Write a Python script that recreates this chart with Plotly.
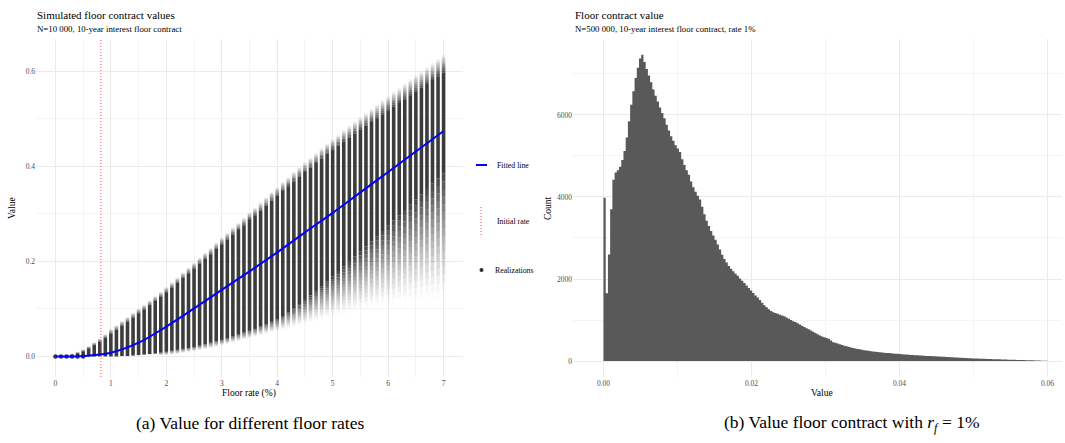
import plotly.graph_objects as go

W, H = 1065, 443
SERIF = "Liberation Serif, Times New Roman, serif"

# ---------------- Panel (a): simulated values per floor rate ----------------
floor_rates = [round(0.1 * i, 1) for i in range(71)]

# upper end of the faint cloud
v_max = [0.000, 0.002, 0.003, 0.006, 0.010, 0.015, 0.022, 0.030, 0.038, 0.047,
         0.058, 0.066, 0.075, 0.083, 0.092, 0.101, 0.109, 0.118, 0.127, 0.136,
         0.146, 0.156, 0.166, 0.177, 0.187, 0.197, 0.208, 0.218, 0.228, 0.239,
         0.250, 0.260, 0.271, 0.281, 0.292, 0.303, 0.313, 0.324, 0.335, 0.346,
         0.356, 0.367, 0.377, 0.388, 0.398, 0.408, 0.418, 0.428, 0.438, 0.448,
         0.457, 0.466, 0.476, 0.485, 0.494, 0.503, 0.512, 0.521, 0.530, 0.539,
         0.548, 0.557, 0.565, 0.574, 0.583, 0.592, 0.600, 0.609, 0.617, 0.626,
         0.634]
# upper end of the dense part
v_hi = [0.000, 0.001, 0.002, 0.004, 0.007, 0.011, 0.017, 0.024, 0.031, 0.039,
        0.048, 0.056, 0.065, 0.073, 0.082, 0.091, 0.099, 0.108, 0.117, 0.126,
        0.135, 0.145, 0.155, 0.165, 0.175, 0.185, 0.195, 0.205, 0.215, 0.226,
        0.236, 0.246, 0.256, 0.266, 0.276, 0.287, 0.297, 0.307, 0.317, 0.328,
        0.338, 0.348, 0.358, 0.368, 0.378, 0.388, 0.397, 0.407, 0.416, 0.426,
        0.435, 0.443, 0.452, 0.460, 0.469, 0.477, 0.485, 0.493, 0.501, 0.509,
        0.517, 0.525, 0.533, 0.541, 0.549, 0.557, 0.565, 0.573, 0.581, 0.589,
        0.597]
# lower end of the dense part
v_lo = [0.000, 0.000, 0.000, 0.000, 0.000, 0.000, 0.000, 0.000, 0.000, 0.000,
        0.000, 0.000, 0.001, 0.001, 0.002, 0.003, 0.004, 0.005, 0.006, 0.008,
        0.010, 0.012, 0.014, 0.016, 0.018, 0.020, 0.023, 0.026, 0.029, 0.032,
        0.035, 0.038, 0.042, 0.046, 0.050, 0.054, 0.058, 0.063, 0.068, 0.073,
        0.078, 0.085, 0.093, 0.101, 0.110, 0.119, 0.128, 0.138, 0.148, 0.158,
        0.168, 0.178, 0.189, 0.199, 0.210, 0.220, 0.231, 0.242, 0.253, 0.264,
        0.275, 0.286, 0.297, 0.308, 0.319, 0.330, 0.341, 0.352, 0.363, 0.374,
        0.385]
# lower end of the faint cloud
v_min = [0.000, 0.000, 0.000, 0.000, 0.000, 0.000, 0.000, 0.000, 0.000, 0.000,
         0.000, 0.000, 0.000, 0.000, 0.000, 0.000, 0.000, 0.001, 0.001, 0.002,
         0.003, 0.004, 0.005, 0.007, 0.009, 0.011, 0.013, 0.015, 0.017, 0.020,
         0.023, 0.026, 0.029, 0.032, 0.035, 0.038, 0.041, 0.044, 0.047, 0.050,
         0.053, 0.056, 0.059, 0.062, 0.065, 0.068, 0.071, 0.074, 0.077, 0.080,
         0.083, 0.086, 0.089, 0.092, 0.095, 0.098, 0.100, 0.102, 0.104, 0.106,
         0.108, 0.110, 0.112, 0.114, 0.116, 0.118, 0.119, 0.120, 0.121, 0.122,
         0.123]

fit_rates = [0.0, 0.5, 1.0, 1.5, 2.0, 2.5, 3.0, 3.5, 4.0, 4.5, 5.0, 5.5, 6.0, 6.5, 7.0]
fit_values = [0.000, 0.001, 0.008, 0.029, 0.063, 0.101, 0.140, 0.179, 0.219,
              0.261, 0.302, 0.345, 0.388, 0.431, 0.474]

initial_rate = 0.82

# ---------------- Panel (b): histogram of contract values ----------------
bin_start = 0.0
bin_width = 0.0003
counts = [3980, 1650, 2600, 3700, 4420, 4600, 4650, 4740, 4900, 5120,
          5450, 5850, 6250, 6580, 6900, 7150, 7380, 7470, 7290, 7120,
          6960, 6800, 6620, 6470, 6330, 6180, 6050, 5920, 5760, 5620,
          5480, 5370, 5260, 5180, 5100, 4920, 4780, 4650, 4540, 4380,
          4240, 4130, 4030, 3940, 3760, 3580, 3420, 3290, 3170, 3060,
          2960, 2840, 2720, 2590, 2490, 2400, 2320, 2250, 2190, 2130,
          2080, 2010, 1960, 1900, 1840, 1780, 1720, 1660, 1600, 1550,
          1490, 1420, 1360, 1310, 1260, 1220, 1190, 1170, 1150, 1130,
          1110, 1090, 1060, 1030, 1000, 970, 950, 920, 890, 860,
          830, 800, 775, 745, 715, 680, 650, 625, 600, 580,
          560, 545, 500, 460, 445, 425, 410, 390, 375, 360,
          345, 330, 318, 305, 295, 285, 275, 265, 255, 248,
          240, 232, 226, 220, 214, 208, 203, 198, 193, 188,
          183, 178, 174, 170, 166, 161, 157, 153, 149, 145,
          142, 139, 135, 132, 128, 125, 122, 120, 117, 114,
          111, 108, 105, 102, 99, 96, 93, 90, 87, 84,
          81, 78, 75, 72, 69, 67, 64, 62, 60, 57,
          55, 53, 51, 49, 47, 45, 43, 42, 40, 38,
          36, 34, 33, 31, 30, 28, 27, 25, 23, 22,
          20, 19, 18, 16, 14, 12, 10, 8, 6, 4]
# bin edges for a gap-free step outline of the histogram
bin_edges = [bin_start + i * bin_width for i in range(len(counts) + 1)]


def px_x(p):
    return p / W


def px_y(p):
    return 1 - p / H


POINT = "45,45,45"
RED = "#FF4A4A"
RED_DASH = "1px,2px"


def segments(lo_arr, hi_arr, f0, f1):
    xs, ys = [], []
    for r, lo, hi in zip(floor_rates, lo_arr, hi_arr):
        xs += [r, r, None]
        ys += [lo + (hi - lo) * f0, lo + (hi - lo) * f1, None]
    return xs, ys


fig = go.Figure()

col_w = 3.6
# dense core of each column
xs, ys = segments(v_lo, v_hi, 0.0, 1.0)
fig.add_trace(go.Scatter(x=xs, y=ys, mode="lines", showlegend=False, hoverinfo="skip",
                         line=dict(color=f"rgba({POINT},0.93)", width=col_w)))
# fading tail above the core
n_top = 8
for k in range(n_top):
    a = 0.85 * (1 - (k + 0.5) / n_top)
    xs, ys = segments(v_hi, v_max, k / n_top, (k + 1) / n_top)
    fig.add_trace(go.Scatter(x=xs, y=ys, mode="lines", showlegend=False, hoverinfo="skip",
                             line=dict(color=f"rgba({POINT},{a:.3f})", width=col_w)))
# fading tail below the core
n_bot = 16
for k in range(n_bot):
    a = 0.88 * (1 - (k + 0.5) / n_bot) ** 1.3
    xs, ys = segments(v_lo, v_min, k / n_bot, (k + 1) / n_bot)
    fig.add_trace(go.Scatter(x=xs, y=ys, mode="lines", showlegend=False, hoverinfo="skip",
                             line=dict(color=f"rgba({POINT},{a:.3f})", width=col_w)))
# realizations that collapse onto a single point at the lowest rates
pt_x = [r for r, lo, hi in zip(floor_rates, v_lo, v_hi) if hi - lo < 0.012]
pt_y = [lo for lo, hi in zip(v_lo, v_hi) if hi - lo < 0.012]
fig.add_trace(go.Scatter(x=pt_x, y=pt_y, mode="markers", showlegend=False,
                         marker=dict(size=4.5, color=f"rgba({POINT},0.93)", line=dict(width=0))))
# fitted curve
fig.add_trace(go.Scatter(x=fit_rates, y=fit_values, mode="lines", showlegend=False,
                         line=dict(color="#0000FF", width=2, shape="spline")))

# histogram as a filled step outline
fig.add_trace(go.Scatter(x=bin_edges, y=counts + [counts[-1]], xaxis="x2", yaxis="y2",
                         mode="lines", line=dict(shape="hv", width=0, color="#595959"),
                         fill="tozeroy", fillcolor="#595959", showlegend=False))

# initial-rate marker line
fig.add_shape(type="line", xref="x", yref="y domain", x0=initial_rate, x1=initial_rate,
              y0=0, y1=1, layer="above", line=dict(color=RED, width=1, dash=RED_DASH))

grid_major = "#EBEBEB"
grid_minor = "#F4F4F4"
tick_font = dict(family=SERIF, size=7.5, color="#4D4D4D")

y_dom = [px_y(377), px_y(38.5)]

fig.update_layout(
    width=W, height=H,
    margin=dict(l=0, r=0, t=0, b=0),
    paper_bgcolor="white", plot_bgcolor="white",
    showlegend=False,
    xaxis=dict(domain=[px_x(36), px_x(463)], range=[-0.35, 7.35],
               tickvals=[0, 1, 2, 3, 4, 5, 6, 7], ticks="", showline=False, zeroline=False,
               showgrid=True, gridcolor=grid_major, gridwidth=1, tickfont=tick_font,
               minor=dict(tick0=0, dtick=0.5, showgrid=True, gridcolor=grid_minor, gridwidth=0.7),
               anchor="y"),
    yaxis=dict(domain=y_dom, range=[-0.0431, 0.6685],
               tickvals=[0, 0.2, 0.4, 0.6], ticktext=["0.0", "0.2", "0.4", "0.6"],
               ticks="", showline=False, zeroline=False,
               showgrid=True, gridcolor=grid_major, gridwidth=1, tickfont=tick_font,
               minor=dict(tick0=0, dtick=0.1, showgrid=True, gridcolor=grid_minor, gridwidth=0.7),
               anchor="x"),
    xaxis2=dict(domain=[px_x(573), px_x(1062)], range=[-0.00412, 0.06196],
                tickvals=[0, 0.02, 0.04, 0.06], ticktext=["0.00", "0.02", "0.04", "0.06"],
                ticks="", showline=False, zeroline=False,
                showgrid=True, gridcolor=grid_major, gridwidth=1, tickfont=tick_font,
                minor=dict(tick0=0, dtick=0.01, showgrid=True, gridcolor=grid_minor, gridwidth=0.7),
                anchor="y2"),
    yaxis2=dict(domain=y_dom, range=[-390, 7865],
                tickvals=[0, 2000, 4000, 6000], ticks="", showline=False, zeroline=False,
                showgrid=True, gridcolor=grid_major, gridwidth=1, tickfont=tick_font,
                minor=dict(tick0=0, dtick=1000, showgrid=True, gridcolor=grid_minor, gridwidth=0.7),
                anchor="x2"),
)


def note(text, x, y, size, xanchor="left", color="black", angle=0):
    fig.add_annotation(text=text, x=px_x(x), y=px_y(y), xref="paper", yref="paper",
                       xanchor=xanchor, yanchor="middle", showarrow=False, textangle=angle,
                       font=dict(family=SERIF, size=size, color=color))


# titles and subtitles
note("Simulated floor contract values", 35, 15, 11)
note("N=10 000, 10-year interest floor contract", 35, 29, 8.8)
note("Floor contract value", 573, 15, 11)
note("N=500 000, 10-year interest floor contract, rate 1%", 573, 29, 8.8)

# axis titles
note("Floor rate (%)", 249, 393, 9.5, xanchor="center")
note("Value", 12, 208, 9.5, xanchor="center", angle=-90)
note("Value", 822, 393, 9.5, xanchor="center")
note("Count", 548, 208, 9.5, xanchor="center", angle=-90)

# legend of panel (a)
fig.add_shape(type="line", xref="paper", yref="paper", x0=px_x(476), x1=px_x(487),
              y0=px_y(165), y1=px_y(165), line=dict(color="#0000FF", width=2))
note("Fitted line", 495, 165, 7.8)
fig.add_shape(type="line", xref="paper", yref="paper", x0=px_x(481), x1=px_x(481),
              y0=px_y(207), y1=px_y(235), line=dict(color=RED, width=1, dash=RED_DASH))
note("Initial rate", 495, 221, 7.8)
fig.add_shape(type="circle", xref="paper", yref="paper", x0=px_x(479.5), x1=px_x(483.5),
              y0=px_y(268), y1=px_y(272), line=dict(width=0), fillcolor=f"rgb({POINT})")
note("Realizations", 493, 270, 7.8)

# sub-figure captions
note("(a) Value for different floor rates", 250, 423, 17.5, xanchor="center")
note("(b) Value floor contract with <i>r</i><sub><i>f</i></sub> = 1%", 851, 423, 17.5,
     xanchor="center")

fig.write_html("out.html")
